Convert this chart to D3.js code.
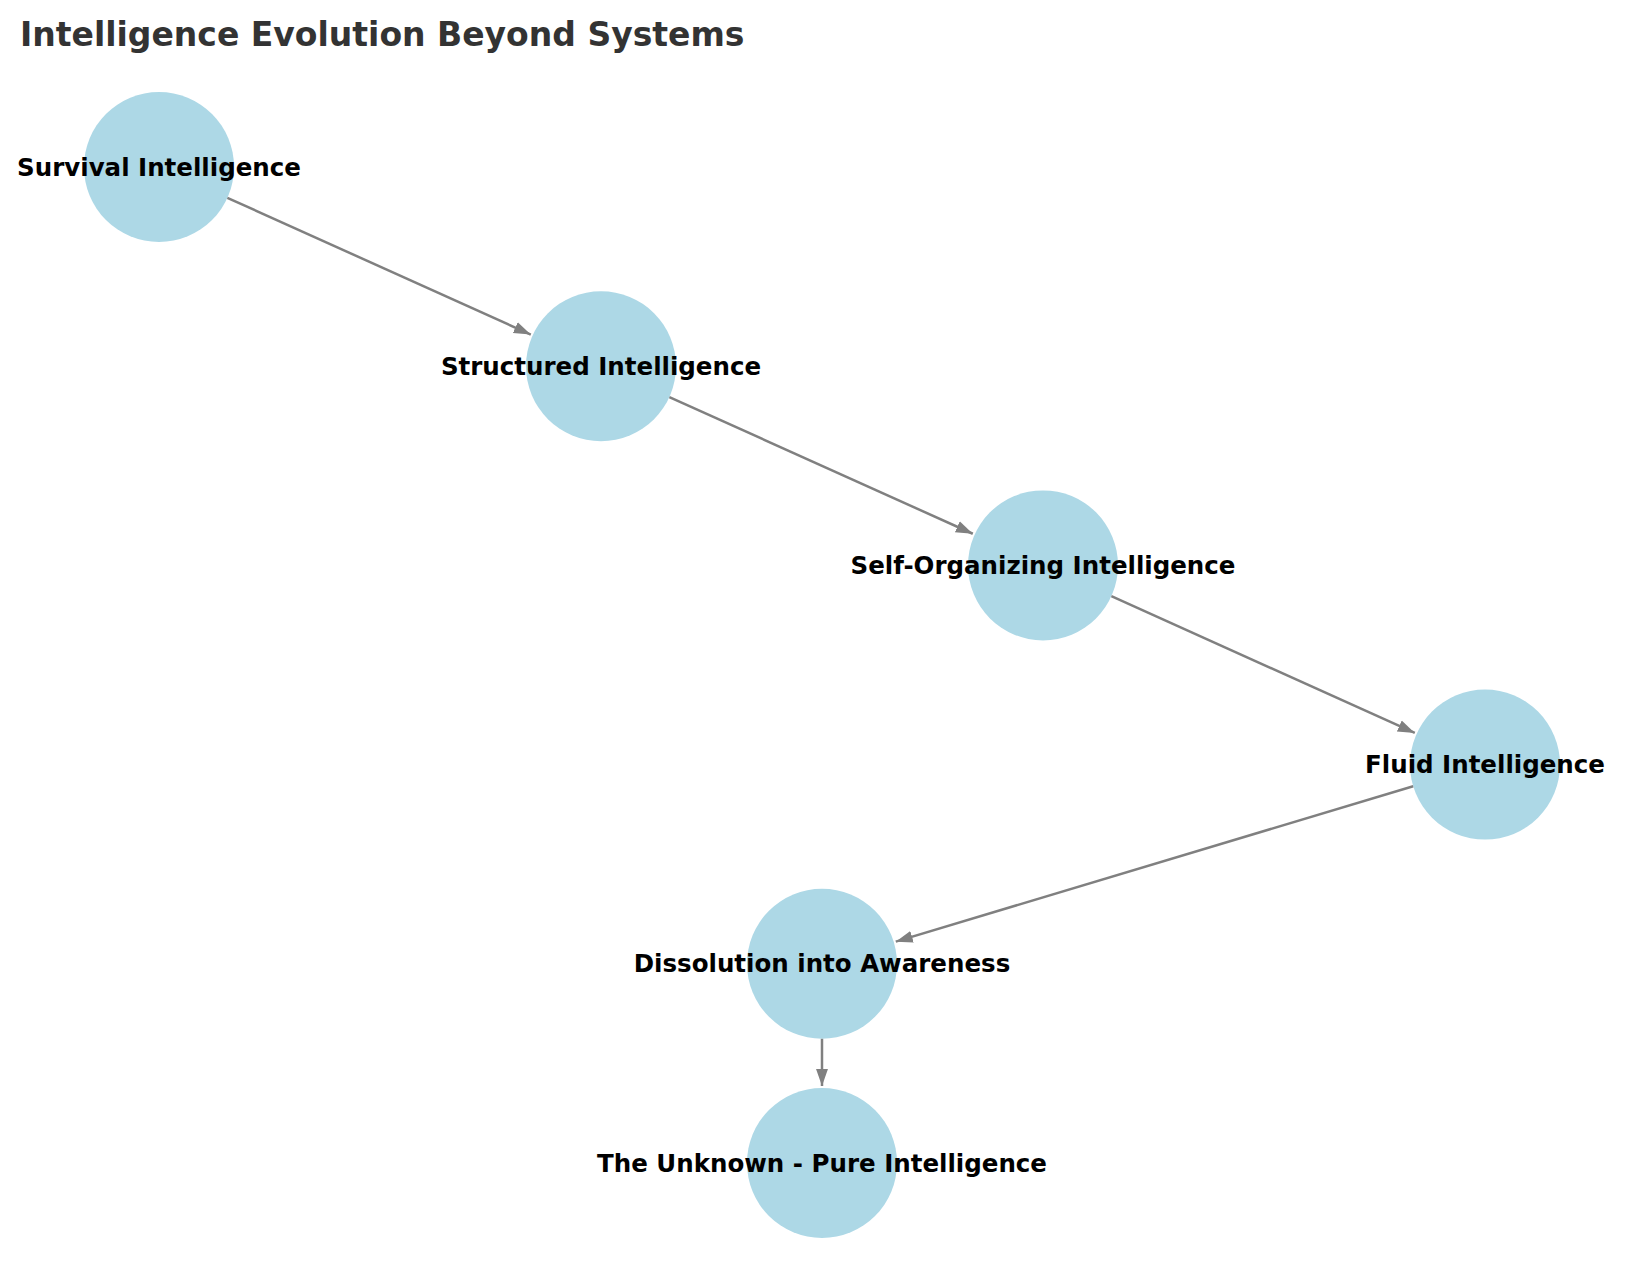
<!DOCTYPE html>
<html><head><meta charset="utf-8">
<script src="https://cdn.jsdelivr.net/npm/d3@7"></script>
<style>body{margin:0;background:#fff}</style></head>
<body><svg id="c" width="1639" height="1282"></svg>
<script>
const nodeNames = ["Survival Intelligence","Structured Intelligence","Self-Organizing Intelligence","Fluid Intelligence","Dissolution into Awareness","The Unknown - Pure Intelligence"];
const nodeX = [0,1,2,3,1.5,1.5];
const nodeY = [0,1,2,3,4,5];
const edges = [[0,1],[1,2],[2,3],[3,4],[4,5]];

const svg = d3.select("#c");
const x = d3.scaleLinear().domain([0,3]).range([159,1485]);
const y = d3.scaleLinear().domain([0,5]).range([167,1163]);
const R = 75;

svg.append("defs").append("marker").attr("id","ah").attr("viewBox","0 0 10 10")
 .attr("refX",10).attr("refY",5).attr("markerWidth",17).attr("markerHeight",17)
 .attr("markerUnits","userSpaceOnUse").attr("orient","auto")
 .append("path").attr("d","M0,1.5 L10,5 L0,8.5 Z").attr("fill","#808080");

svg.append("text").attr("x",20).attr("y",46).attr("font-family","DejaVu Sans")
 .attr("font-weight","bold").attr("font-size",33).attr("fill","#333")
 .text("Intelligence Evolution Beyond Systems");

svg.selectAll("circle").data(nodeNames).join("circle")
 .attr("cx",(d,i)=>x(nodeX[i])).attr("cy",(d,i)=>y(nodeY[i])).attr("r",R).attr("fill","#add8e6");

svg.selectAll("line.e").data(edges).join("line").attr("class","e")
 .each(function(e){
   const x1=x(nodeX[e[0]]),y1=y(nodeY[e[0]]),x2=x(nodeX[e[1]]),y2=y(nodeY[e[1]]);
   const L=Math.hypot(x2-x1,y2-y1),ux=(x2-x1)/L,uy=(y2-y1)/L;
   d3.select(this).attr("x1",x1+ux*R).attr("y1",y1+uy*R).attr("x2",x2-ux*(R+2)).attr("y2",y2-uy*(R+2));
 })
 .attr("stroke","#808080").attr("stroke-width",2.5).attr("marker-end","url(#ah)");

svg.selectAll("text.l").data(nodeNames).join("text").attr("class","l")
 .attr("x",(d,i)=>x(nodeX[i])).attr("y",(d,i)=>y(nodeY[i])).attr("dy","0.35em")
 .attr("text-anchor","middle").attr("font-family","DejaVu Sans").attr("font-weight","bold")
 .attr("font-size",24.5).text(d=>d);
</script></body></html>
